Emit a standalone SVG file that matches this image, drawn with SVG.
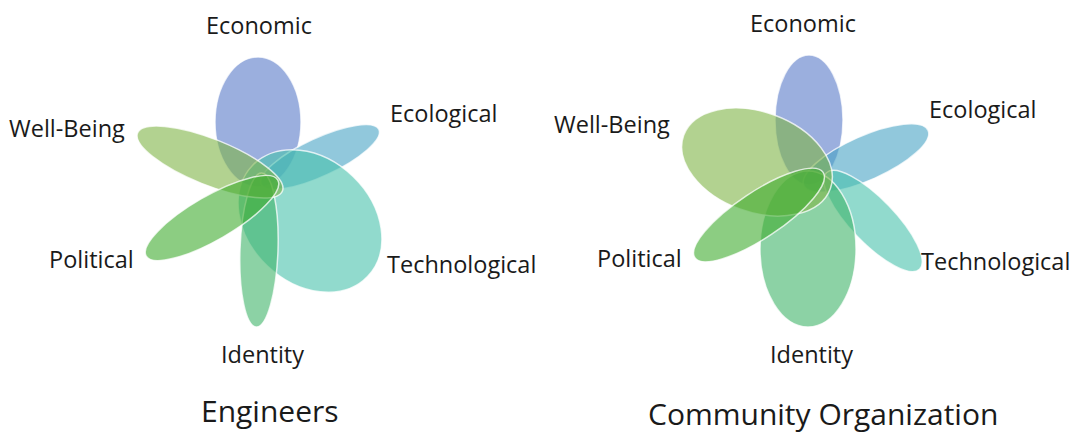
<svg xmlns="http://www.w3.org/2000/svg" width="1077" height="433" viewBox="0 0 1077 433">
<style>
.p{fill-opacity:0.6;stroke:#ffffff;stroke-opacity:0.75;stroke-width:1.5}
.eco{fill:#587AC8}
.ecl{fill:#48A3C5}
.wb{fill:#7FB446}
.pol{fill:#3FAC2E}
.id{fill:#3FB469}
.tec{fill:#48C1AC}
text{font-family:"Open Sans","Liberation Sans",sans-serif;fill:#1a1a1a}
.l{font-size:23.5px}
.t{font-size:30px}
</style>
<rect width="1077" height="433" fill="#ffffff"/>
<g id="engineers">
<g id="eng-economic"><ellipse class="p eco" cx="258" cy="122" rx="43" ry="65"/></g>
<g id="eng-ecological"><ellipse class="p ecl" cx="320" cy="157" rx="65" ry="19" transform="rotate(-25 320 157)"/></g>
<g id="eng-technological"><ellipse class="p tec" cx="310" cy="221" rx="80" ry="62" transform="rotate(44 310 221)"/></g>
<g id="eng-identity"><ellipse class="p id" cx="259" cy="250" rx="19" ry="77" transform="rotate(2 259 250)"/></g>
<g id="eng-wellbeing"><ellipse class="p wb" cx="210" cy="162" rx="78" ry="23" transform="rotate(21.8 210 162)"/></g>
<g id="eng-political"><ellipse class="p pol" cx="212" cy="218" rx="76" ry="22" transform="rotate(-30 212 218)"/></g>
<text class="l" x="206" y="34">Economic</text>
<text class="l" x="390" y="122">Ecological</text>
<text class="l" x="9" y="137">Well-Being</text>
<text class="l" x="49" y="268">Political</text>
<text class="l" x="387" y="273">Technological</text>
<text class="l" x="221" y="363">Identity</text>
<text class="t" x="201" y="422">Engineers</text>
</g>
<g id="community">
<g id="com-economic"><ellipse class="p eco" cx="809" cy="120" rx="34" ry="65"/></g>
<g id="com-ecological"><ellipse class="p ecl" cx="866" cy="158" rx="68" ry="22" transform="rotate(-24 866 158)"/></g>
<g id="com-technological"><ellipse class="p tec" cx="873" cy="221" rx="67" ry="22" transform="rotate(46 873 221)"/></g>
<g id="com-identity"><ellipse class="p id" cx="808" cy="249" rx="48" ry="78"/></g>
<g id="com-wellbeing"><ellipse class="p wb" cx="757" cy="162" rx="78" ry="50" transform="rotate(20 757 162)"/></g>
<g id="com-political"><ellipse class="p pol" cx="759" cy="215" rx="77" ry="23" transform="rotate(-33.6 759 215)"/></g>
<text class="l" x="750" y="32">Economic</text>
<text class="l" x="929" y="118">Ecological</text>
<text class="l" x="554" y="133">Well-Being</text>
<text class="l" x="597" y="267">Political</text>
<text class="l" x="921" y="270">Technological</text>
<text class="l" x="770" y="363">Identity</text>
<text class="t" x="648" y="425">Community Organization</text>
</g>
</svg>
